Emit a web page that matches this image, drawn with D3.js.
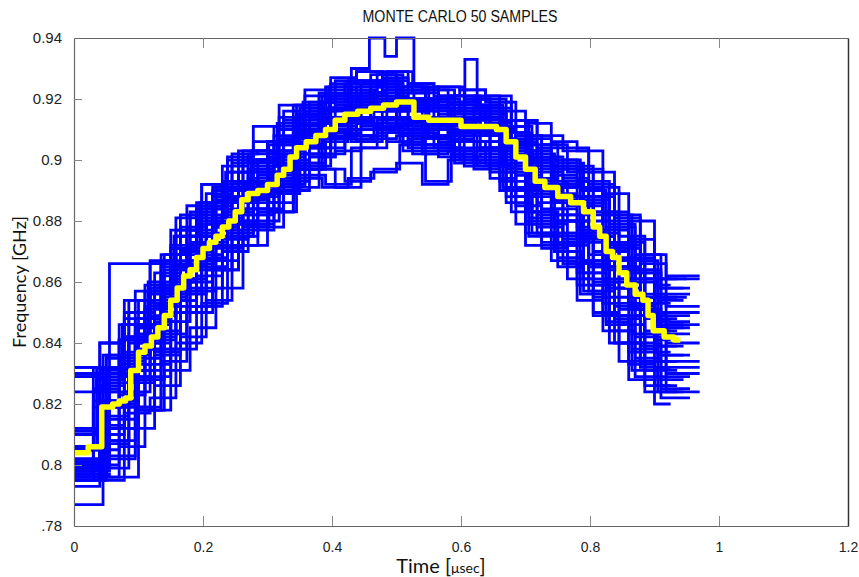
<!DOCTYPE html>
<html><head><meta charset="utf-8">
<script src="https://cdn.jsdelivr.net/npm/d3@7/dist/d3.min.js"></script>
<style>body{margin:0;background:#fff;}svg{display:block;}</style>
</head><body>
<svg id="chart" width="859" height="577"></svg>
<script>
// ---- data (time in ns, frequency in MHz) ----
const xTicks = [0, 0.2, 0.4, 0.6, 0.8, 1, 1.2];
const xTickLabels = ["0", "0.2", "0.4", "0.6", "0.8", "1", "1.2"];
const yTicks = [0.78, 0.8, 0.82, 0.84, 0.86, 0.88, 0.9, 0.92, 0.94];
const yTickLabels = [".78", "0.8", "0.82", "0.84", "0.86", "0.88", "0.9", "0.92", "0.94"];

const gridA = [0,45,85,125,165,205,245,285,325,365,405,445,485,525,565,605,645,685,725,765,805,845,885,935];
const gridB = [0,30,70,110,150,190,230,270,310,350,390,430,470,510,550,590,630,670,710,750,790,830,870,910,955];
const gridC = [0,50,95,135,175,215,255,300,340,380,420,460,500,540,580,620,660,700,740,780,820,860,900,925];
const gridD = [0,40,78,118,158,198,238,278,318,358,398,438,478,518,558,598,638,678,718,758,798,838,878,918,970];
const gridE = [0,55,100,140,180,220,262,302,345,385,425,465,505,545,585,625,665,705,745,785,825,865,905,945];
const gridF = [0,35,75,115,155,195,235,275,315,355,395,430,458,482,500,527,565,606,625,660,700,740,780,820,860,900,950];

const seriesA = [
 [795,807,819,836,850,864,872,883,890,901,903,908,906,907,901,903,894,885,871,866,849,840,826],
 [810,832,850,859,878,885,899,900,913,917,921,926,923,922,918,920,913,908,898,896,883,873,855],
 [806,821,840,853,865,880,886,896,902,913,914,919,917,916,911,913,906,899,888,885,870,861,844],
 [797,816,827,844,857,872,879,889,897,908,910,914,912,911,906,908,900,891,879,876,860,851,834],
 [805,830,841,858,870,884,891,900,906,916,918,922,920,919,915,917,910,903,893,891,876,867,850],
 [787,799,812,826,842,854,875,878,893,897,891,904,909,902,903,898,896,879,873,861,850,834,824],
 [832,836,854,863,882,889,902,903,916,919,926,925,929,923,924,920,919,908,905,898,891,875,861],
 [796,808,828,837,856,864,880,884,898,901,909,911,910,909,904,906,898,888,876,873,855,846,831],
 [801,827,842,852,871,879,893,895,907,914,917,921,919,918,914,915,909,901,891,888,873,864,848],
 [799,819,831,847,861,875,884,892,900,909,912,916,914,913,908,910,903,895,884,880,865,855,839]
];
const seriesB = [
 [829,830,846,857,877,884,898,900,911,915,924,923,928,922,923,919,920,909,905,897,893,878,869,858],
 [796,800,819,829,850,858,874,879,891,897,907,906,911,905,905,901,902,888,879,868,861,844,835,825],
 [801,819,829,846,860,875,882,893,898,909,913,918,916,917,911,913,908,902,889,886,874,865,849,843],
 [810,824,841,852,872,879,893,897,908,912,921,920,925,919,920,916,916,905,900,892,887,872,863,849],
 [798,812,823,840,854,869,877,888,893,905,909,914,913,913,907,909,904,897,883,880,867,858,842,836],
 [795,796,806,818,838,852,870,877,889,895,892,904,909,903,903,899,900,886,876,865,857,840,829,822],
 [805,825,834,851,865,880,887,897,901,912,917,921,920,920,914,916,911,906,894,891,880,871,855,847],
 [812,832,841,859,871,886,892,902,906,917,920,925,924,924,918,921,915,911,900,899,888,879,864,856],
 [797,805,823,833,854,862,877,882,894,899,909,908,914,908,907,903,904,891,883,873,866,849,840,829],
 [800,821,831,848,861,876,883,894,899,910,914,919,918,918,912,914,909,903,890,888,876,867,851,845]
];
const seriesC = [
 [798,802,818,834,852,864,879,883,897,902,908,907,908,902,903,899,893,876,872,859,849,833,826],
 [812,835,848,867,877,890,896,906,911,921,922,925,920,920,916,918,909,903,895,891,877,868,853],
 [800,820,835,854,864,878,884,894,902,912,913,917,912,912,907,909,898,890,880,875,860,851,837],
 [830,836,857,869,885,891,903,906,918,922,925,928,924,923,919,921,913,907,900,897,883,874,859],
 [802,820,841,855,870,878,890,895,907,912,917,917,917,912,912,909,904,891,887,877,867,852,844],
 [795,808,831,843,860,867,882,886,899,904,910,910,911,905,906,901,896,880,875,863,853,837,832],
 [806,832,846,865,875,888,893,903,909,919,920,924,919,919,914,916,907,900,892,888,873,864,850],
 [799,821,838,856,867,879,887,896,904,913,914,918,914,913,909,910,901,892,884,878,864,853,841],
 [796,803,819,838,850,864,872,883,891,897,893,896,899,892,900,897,890,872,867,854,844,828,820],
 [801,829,843,862,872,886,891,901,908,917,918,922,917,917,912,914,905,898,889,885,870,861,847]
];
const seriesD = [
 [832,840,850,866,877,892,901,911,918,923,925,929,927,925,921,923,919,913,904,903,892,881,866,861],
 [799,810,829,838,858,865,880,884,897,902,911,910,914,907,908,904,904,888,882,872,865,848,839,830],
 [806,826,836,853,864,879,886,896,901,912,916,920,918,917,912,914,908,901,890,888,875,865,849,846],
 [797,795,817,822,840,853,876,880,892,898,907,906,911,904,904,900,899,883,876,866,857,840,832,824],
 [811,830,848,857,875,882,896,899,910,915,923,922,926,920,920,917,917,905,901,893,888,871,861,852],
 [800,813,833,842,861,868,883,888,899,904,913,912,916,910,910,906,906,891,886,876,869,852,843,834],
 [805,831,842,858,869,884,890,900,905,916,920,924,921,920,916,918,912,906,896,894,882,872,856,850],
 [793,812,824,841,852,867,875,886,892,904,908,912,910,909,904,906,899,890,878,874,859,849,834,832],
 [802,819,837,849,865,873,887,891,903,908,917,916,920,913,914,910,910,896,891,882,875,858,849,840],
 [810,840,854,867,881,892,900,906,914,921,927,929,929,925,924,923,921,913,908,904,896,882,869,862]
];
const seriesE = [
 [799,812,828,847,857,871,878,889,897,906,907,911,906,907,901,903,891,881,870,863,847,838,828],
 [829,866,866,869,883,891,903,905,918,921,926,926,924,920,921,918,913,902,900,890,882,867,858],
 [801,821,840,857,867,879,887,896,905,912,913,917,913,912,909,909,899,890,882,875,861,851,839],
 [810,830,845,864,873,887,892,902,909,917,918,922,916,917,912,914,904,897,888,883,868,860,846],
 [798,815,838,850,866,872,887,890,904,907,913,912,912,908,908,904,898,883,880,867,858,843,836],
 [806,832,854,866,882,888,900,903,915,919,924,924,922,918,919,916,911,899,897,886,878,863,854],
 [797,796,818,831,845,858,879,883,894,891,894,897,905,893,902,898,891,875,870,856,846,831,824],
 [800,824,845,859,873,881,893,898,910,914,919,919,918,914,914,911,905,892,888,877,867,853,845]
];
const seriesF = [
 [824,832,846,860,875,886,896,903,912,919,924,930,940,934,940,924,921,919,918,911,903,898,891,880,867,855],
 [805,828,842,856,871,881,891,898,907,914,919,921,922,923,922,919,917,933,917,916,912,906,903,889,880,861]
];

const meanTimes = [0,22,43,60,70,80,88,100,110,120,130,140,150,160,170,180,190,200,210,220,230,240,250,260,270,285,300,315,325,335,345,360,375,390,405,420,440,460,480,500,527,550,575,600,625,655,670,685,700,715,730,750,770,790,805,815,825,835,845,857,870,882,890,898,915,930,940];
const meanValues = [804,806,819,820,821,822,831,837,839,842,845,849,854,858,862,864,868,871,873,875,878,880,883,887,889,890,892,895,897,901,904,906,908,910,913,915,916,917,918,919,914,913,913,911,911,910,906,901,897,893,891,888,886,883,878,875,870,868,863,859,856,854,849,844,842,841];

// ---- layout ----
const svg = d3.select("#chart");
const L = 74, R = 848, T = 38, B = 526;
const x = d3.scaleLinear().domain([0, 1.2]).range([L, R]);
const y = d3.scaleLinear().domain([0.78, 0.94]).range([B, T]);

function toPoints(times, vals) {
  const n = Math.min(vals.length, times.length - 1);
  const pts = [];
  for (let i = 0; i < n; i++) pts.push([times[i] / 1000, vals[i] / 1000]);
  pts.push([times[n] / 1000, vals[n - 1] / 1000]);
  return pts;
}
const line = d3.line().x(d => x(d[0])).y(d => y(d[1])).curve(d3.curveStepAfter);

const groups = [[gridA, seriesA], [gridB, seriesB], [gridC, seriesC], [gridD, seriesD], [gridE, seriesE], [gridF, seriesF]];
const gLines = svg.append("g");
groups.forEach(([grid, list]) => {
  list.forEach(vals => {
    gLines.append("path").attr("d", line(toPoints(grid, vals)))
      .attr("fill", "none").attr("stroke", "#0000ff").attr("stroke-width", 2.8)
      .attr("stroke-linejoin", "miter");
  });
});
svg.append("path").attr("d", line(toPoints(meanTimes, meanValues)))
  .attr("fill", "none").attr("stroke", "#ffff00").attr("stroke-width", 5.5)
  .attr("stroke-linejoin", "round");

// ---- axes ----
const axisBottom = d3.axisBottom(x).tickValues(xTicks).tickFormat((d, i) => xTickLabels[i]).tickSizeInner(-10).tickSizeOuter(0).tickPadding(16);
const gx = svg.append("g").attr("transform", `translate(0,${B})`).call(axisBottom);
const axisTop = d3.axisTop(x).tickValues(xTicks).tickFormat("").tickSizeInner(-10).tickSizeOuter(0);
const gt = svg.append("g").attr("transform", `translate(0,${T})`).call(axisTop);
const axisLeft = d3.axisLeft(y).tickValues(yTicks).tickFormat((d, i) => yTickLabels[i]).tickSizeInner(-8).tickSizeOuter(0).tickPadding(12);
const gy = svg.append("g").attr("transform", `translate(${L},0)`).call(axisLeft);
const axisRight = d3.axisRight(y).tickValues([]).tickSizeOuter(0);
const gr = svg.append("g").attr("transform", `translate(${R},0)`).call(axisRight);

[gx, gt, gy, gr].forEach(g => {
  g.select(".domain").attr("stroke", "#666").attr("stroke-width", 1.2);
  g.selectAll(".tick line").attr("stroke", "#888").attr("stroke-width", 1);
  g.selectAll(".tick text").attr("fill", "#222").style("font-family", "'Liberation Sans', Arial, sans-serif");
});
gr.select(".domain").attr("stroke", "#333").attr("stroke-width", 1.5);
gx.selectAll(".tick text").style("font-size", "14px");
gy.selectAll(".tick text").style("font-size", "15px");
gx.selectAll(".tick").filter(d => d === 0 || d === 1.2).select("line").remove();
gt.selectAll(".tick").filter(d => d === 0 || d === 1.2).select("line").remove();
gy.selectAll(".tick").filter(d => d === 0.78 || d === 0.94).select("line").remove();

// ---- titles ----
svg.append("text").attr("x", 460).attr("y", 22).attr("text-anchor", "middle")
  .attr("textLength", 195).attr("lengthAdjust", "spacingAndGlyphs")
  .style("font-family", "'Liberation Sans', Arial, sans-serif")
  .style("font-size", "16px").attr("fill", "#111").text("MONTE CARLO 50 SAMPLES");

svg.append("text").attr("transform", "translate(26,282) rotate(-90)").attr("text-anchor", "middle")
  .style("font-family", "Lato, 'Open Sans', sans-serif").style("font-size", "18px").attr("fill", "#111")
  .text("Frequency [GHz]");

const xl = svg.append("text").attr("x", 441).attr("y", 573).attr("text-anchor", "middle")
  .style("font-family", "Lato, 'Open Sans', sans-serif").attr("fill", "#111");
xl.append("tspan").style("font-size", "20px").text("Time ");
xl.append("tspan").style("font-size", "20px").text("[");
xl.append("tspan").style("font-size", "14px").text("μsec");
xl.append("tspan").style("font-size", "20px").text("]");
</script>
</body></html>
